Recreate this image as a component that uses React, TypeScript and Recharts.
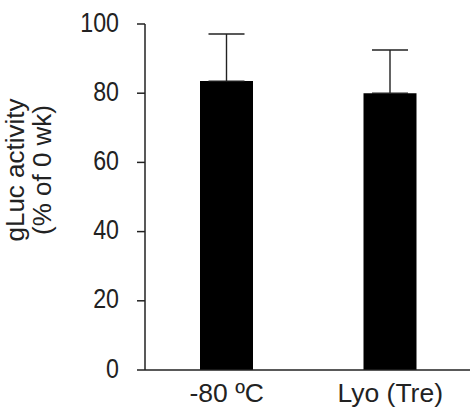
import React from 'react';
import { BarChart, Bar, XAxis, YAxis, ErrorBar } from 'recharts';

const categories = ['-80 ºC', 'Lyo (Tre)'];
const activity = [83.5, 80.0];
const errorUp = [13.6, 12.5];
const yTicks = [0, 20, 40, 60, 80, 100];

const data = categories.map((name, i) => ({
  name,
  value: activity[i],
  err: [0, errorUp[i]],
}));

const FONT = 'Liberation Sans, Arial, sans-serif';
const INK = '#222';

const YTick = (props: any) => {
  const { x, y, payload } = props;
  return (
    <text
      transform={`translate(${x},${y}) scale(0.86,1)`}
      textAnchor="end"
      dy="0.28em"
      fontFamily={FONT}
      fontSize={27}
      fill={INK}
    >
      {payload.value}
    </text>
  );
};

const XTick = (props: any) => {
  const { x, y, payload } = props;
  return (
    <text
      x={x}
      y={y}
      textAnchor="middle"
      dy="0.71em"
      fontFamily={FONT}
      fontSize={26.5}
      fill={INK}
    >
      {payload.value}
    </text>
  );
};

const YLabel = () => (
  <text
    transform="translate(29,170) rotate(-90)"
    textAnchor="middle"
    fontFamily={FONT}
    fontSize={26}
    fill={INK}
  >
    <tspan x={0} dy={-5}>gLuc activity</tspan>
    <tspan x={0} dy={27}>(% of 0 wk)</tspan>
  </text>
);

export default function App() {
  return (
    <div style={{ position: 'absolute', left: 0, top: 0, width: 470, height: 408, overflow: 'hidden', background: '#fff' }}>
      <BarChart
        width={475}
        height={408}
        data={data}
        margin={{ top: 24, right: 3, bottom: 0, left: 0 }}
        barSize={53}
      >
        <XAxis
          dataKey="name"
          height={38}
          tickLine={false}
          tickSize={6}
          tickMargin={7}
          axisLine={{ stroke: INK, strokeWidth: 1.5 }}
          tick={<XTick />}
        />
        <YAxis
          width={145}
          domain={[0, 100]}
          ticks={yTicks}
          interval={0}
          tickSize={8}
          tickMargin={18}
          axisLine={{ stroke: INK, strokeWidth: 1.5 }}
          tickLine={{ stroke: INK, strokeWidth: 1.5 }}
          tick={<YTick />}
          label={<YLabel />}
        />
        <Bar dataKey="value" fill="#000" isAnimationActive={false}>
          <ErrorBar dataKey="err" direction="y" width={18} stroke={INK} strokeWidth={1.4} />
        </Bar>
      </BarChart>
    </div>
  );
}
